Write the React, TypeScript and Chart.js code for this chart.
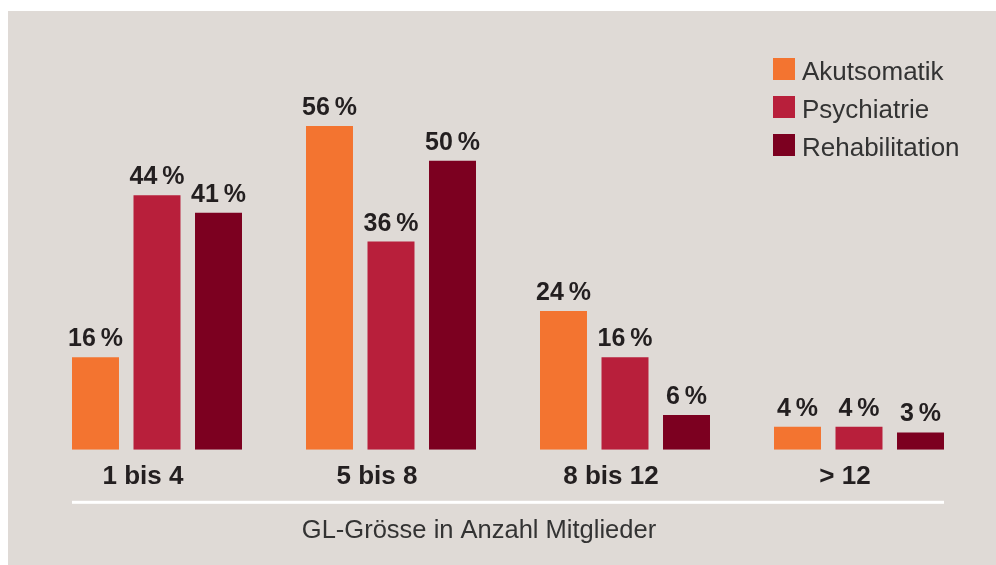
import React, { useEffect, useRef } from "react";
import { Chart, registerables } from "chart.js";

Chart.register(...registerables);

const categories = ["1 bis 4", "5 bis 8", "8 bis 12", "> 12"];
const seriesNames = ["Akutsomatik", "Psychiatrie", "Rehabilitation"];
const akutsomatik = [16, 56, 24, 4];
const psychiatrie = [44, 36, 16, 4];
const rehabilitation = [41, 50, 6, 3];
const axisTitle = "GL-Grösse in Anzahl Mitglieder";
const seriesColors = ["#f37430", "#b81f3b", "#7c0020"];

const FONT = '"Liberation Sans", Arial, Helvetica, sans-serif';

const overlayPlugin = {
  id: "overlay",
  afterDatasetsDraw(chart: any) {
    const ctx = chart.ctx as CanvasRenderingContext2D;
    const area = chart.chartArea;
    ctx.save();

    // value labels above bars
    ctx.font = `bold 25px ${FONT}`;
    ctx.fillStyle = "#231f20";
    ctx.textAlign = "center";
    ctx.textBaseline = "alphabetic";
    chart.data.datasets.forEach((ds: any, di: number) => {
      const meta = chart.getDatasetMeta(di);
      meta.data.forEach((bar: any, i: number) => {
        ctx.fillText(`${ds.data[i]}\u2009%`, bar.x, bar.y - 11);
      });
    });

    // white separator line spanning the bars
    const first = chart.getDatasetMeta(0).data[0];
    const lastMeta = chart.getDatasetMeta(chart.data.datasets.length - 1);
    const last = lastMeta.data[lastMeta.data.length - 1];
    const x0 = first.x - first.width / 2;
    const x1 = last.x + last.width / 2;
    const yLine = area.bottom + 52.5;
    ctx.fillStyle = "#ffffff";
    ctx.fillRect(x0, yLine - 1.5, x1 - x0, 3);

    // axis title
    ctx.font = `25.5px ${FONT}`;
    ctx.fillStyle = "#333333";
    ctx.textAlign = "center";
    ctx.fillText(axisTitle, (x0 + x1) / 2 - 29, yLine + 35.5);

    // legend
    const boxLeft = area.right - 203;
    const boxTop0 = 47;
    const rowGap = 38;
    const box = 22;
    ctx.textAlign = "left";
    ctx.font = `26px ${FONT}`;
    chart.data.datasets.forEach((ds: any, di: number) => {
      const top = boxTop0 + di * rowGap;
      ctx.fillStyle = ds.backgroundColor;
      ctx.fillRect(boxLeft, top, box, box);
      ctx.fillStyle = "#333333";
      ctx.fillText(ds.label, boxLeft + 29, top + box);
    });

    ctx.restore();
  },
};

export default function App() {
  const canvasRef = useRef<HTMLCanvasElement | null>(null);

  useEffect(() => {
    if (!canvasRef.current) return;
    const seriesData = [akutsomatik, psychiatrie, rehabilitation];
    const chart = new Chart(canvasRef.current, {
      type: "bar",
      data: {
        labels: categories,
        datasets: seriesNames.map((name, i) => ({
          label: name,
          data: seriesData[i],
          backgroundColor: seriesColors[i],
          borderWidth: 0,
          categoryPercentage: 0.7885,
          barPercentage: 0.764,
        })),
      },
      options: {
        responsive: false,
        animation: false,
        layout: { padding: { top: 34, left: 32, right: 20, bottom: 62 } },
        plugins: {
          legend: { display: false },
          tooltip: { enabled: false },
          title: { display: false },
        },
        scales: {
          y: { display: false, min: 0, max: 70 },
          x: {
            grid: { display: false, drawTicks: false },
            border: { display: false },
            ticks: {
              color: "#231f20",
              font: { family: FONT, size: 26, weight: "bold" },
              padding: 11,
              labelOffset: -14,
            },
          },
        },
      },
      plugins: [overlayPlugin],
    });
    return () => chart.destroy();
  }, []);

  return (
    <div
      style={{
        position: "absolute",
        left: 8,
        top: 11,
        width: 988,
        height: 554,
        background: "#dfdad6",
      }}
    >
      <canvas ref={canvasRef} width={988} height={554} style={{ display: "block" }} />
    </div>
  );
}
